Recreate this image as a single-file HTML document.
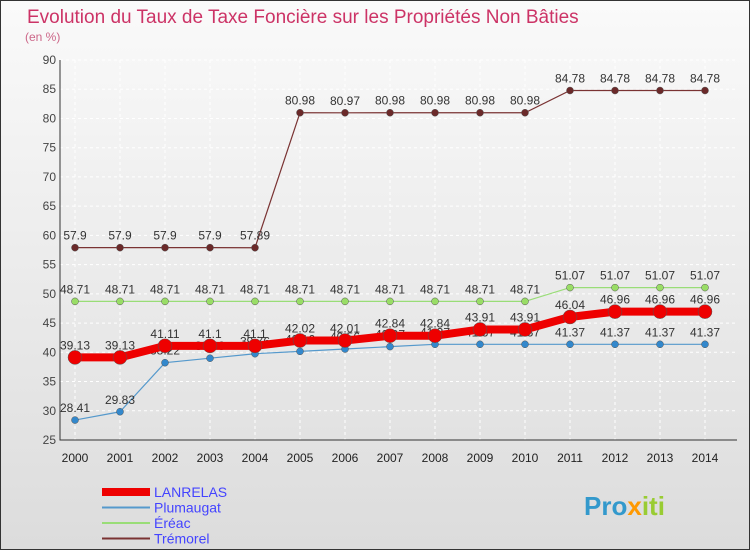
<!DOCTYPE html>
<html><head><meta charset="utf-8"><style>
body{margin:0;width:750px;height:550px;overflow:hidden;font-family:"Liberation Sans",sans-serif}
#wrap{position:absolute;left:0;top:0;width:748px;height:548px;border:1px solid #333;background:linear-gradient(#fafafa,#dcdcdc)}
</style></head><body>
<div id="wrap">
<svg width="750" height="550" id="svg" style="position:absolute;left:-1px;top:-1px">
<text x="27" y="23" font-size="19" fill="#cc3366">Evolution du Taux de Taxe Foncière sur les Propriétés Non Bâties</text>
<text x="25" y="41" font-size="12" fill="#cc6688">(en %)</text>
<g id="grid"></g><g id="series"></g>
<text x="584" y="515" font-size="26" font-weight="bold" fill="#3399cc">Pro<tspan fill="#ff9900">x</tspan><tspan fill="#99cc33">iti</tspan></text>
</svg></div>
<script>
const years=[2000,2001,2002,2003,2004,2005,2006,2007,2008,2009,2010,2011,2012,2013,2014];
const lanrelas=[39.13,39.13,41.11,41.1,41.1,42.02,42.01,42.84,42.84,43.91,43.91,46.04,46.96,46.96,46.96];
const plumaugat=[28.41,29.83,38.22,38.99,39.76,40.16,40.56,40.97,41.37,41.37,41.37,41.37,41.37,41.37,41.37];
const ereac=[48.71,48.71,48.71,48.71,48.71,48.71,48.71,48.71,48.71,48.71,48.71,51.07,51.07,51.07,51.07];
const tremorel=[57.9,57.9,57.9,57.9,57.89,80.98,80.97,80.98,80.98,80.98,80.98,84.78,84.78,84.78,84.78];
const yTicks=[25,30,35,40,45,50,55,60,65,70,75,80,85,90];
const NS="http://www.w3.org/2000/svg";
const X=i=>75+i*45, Y=v=>440-(v-25)*380/65;
function mk(t,a,p){const e=document.createElementNS(NS,t);for(const k in a)e.setAttribute(k,a[k]);p.appendChild(e);return e;}
const g=document.getElementById('grid'), s=document.getElementById('series');
yTicks.forEach(v=>{
 const l=mk('line',{x1:60,x2:737,y1:Y(v),y2:Y(v),stroke:'#fff','stroke-dasharray':'3,3'},g);
 
 
 const t=mk('text',{x:56,y:Y(v)+4,'font-size':12,fill:'#444','text-anchor':'end'},g);t.textContent=v;
 
 
});
years.forEach((yr,i)=>{
 const l=mk('line',{x1:X(i),x2:X(i),y1:60,y2:440,stroke:'#fff','stroke-dasharray':'3,3'},g);
 
 
 const t=mk('text',{x:X(i),y:462,'font-size':12,fill:'#222','text-anchor':'middle'},g);t.textContent=yr;
 
 
});
const ax=mk('path',{d:'M60,60V440H737',stroke:'#333',fill:'none'},g);


const series=[
 {n:'tremorel',d:tremorel,c:'#7a3333',w:1.2,r:3.5,f:'#6b2a2a'},
 {n:'ereac',d:ereac,c:'#99dd77',w:1.2,r:3.5,f:'#99dd66'},
 {n:'plumaugat',d:plumaugat,c:'#5599cc',w:1.2,r:3.5,f:'#3388cc'},
 {n:'lanrelas',d:lanrelas,c:'#ee0000',w:8,r:7,f:'#ee0000'}];
series.forEach(S=>{
 const p=mk('polyline',{points:S.d.map((v,i)=>X(i)+','+Y(v)).join(' '),fill:'none',stroke:S.c,'stroke-width':S.w},s);
 
 
 S.d.forEach((v,i)=>{
  const c=mk('circle',{cx:X(i),cy:Y(v),r:S.r,fill:S.f,stroke:'#555','stroke-width':0.5},s);
  
  
  const t=mk('text',{x:X(i),y:Y(v)-8,'font-size':12,fill:'#333','text-anchor':'middle'},s);t.textContent=v;
  
  
 });
});
const leg=[['LANRELAS','#ee0000',8,'#4444ff'],['Plumaugat','#5599cc',2,'#4444ff'],['Éréac','#99dd77',2,'#4444ff'],['Trémorel','#7a3333',2,'#4444ff']];
leg.forEach((L,i)=>{
 const y=492+i*15.5;
 const l=mk('line',{x1:102,x2:150,y1:y,y2:y,stroke:L[1],'stroke-width':L[2]},s);
 
 
 const t=mk('text',{x:154,y:y+5,'font-size':14,fill:L[3]},s);t.textContent=L[0];
 
 
});
</script>
</body></html>
